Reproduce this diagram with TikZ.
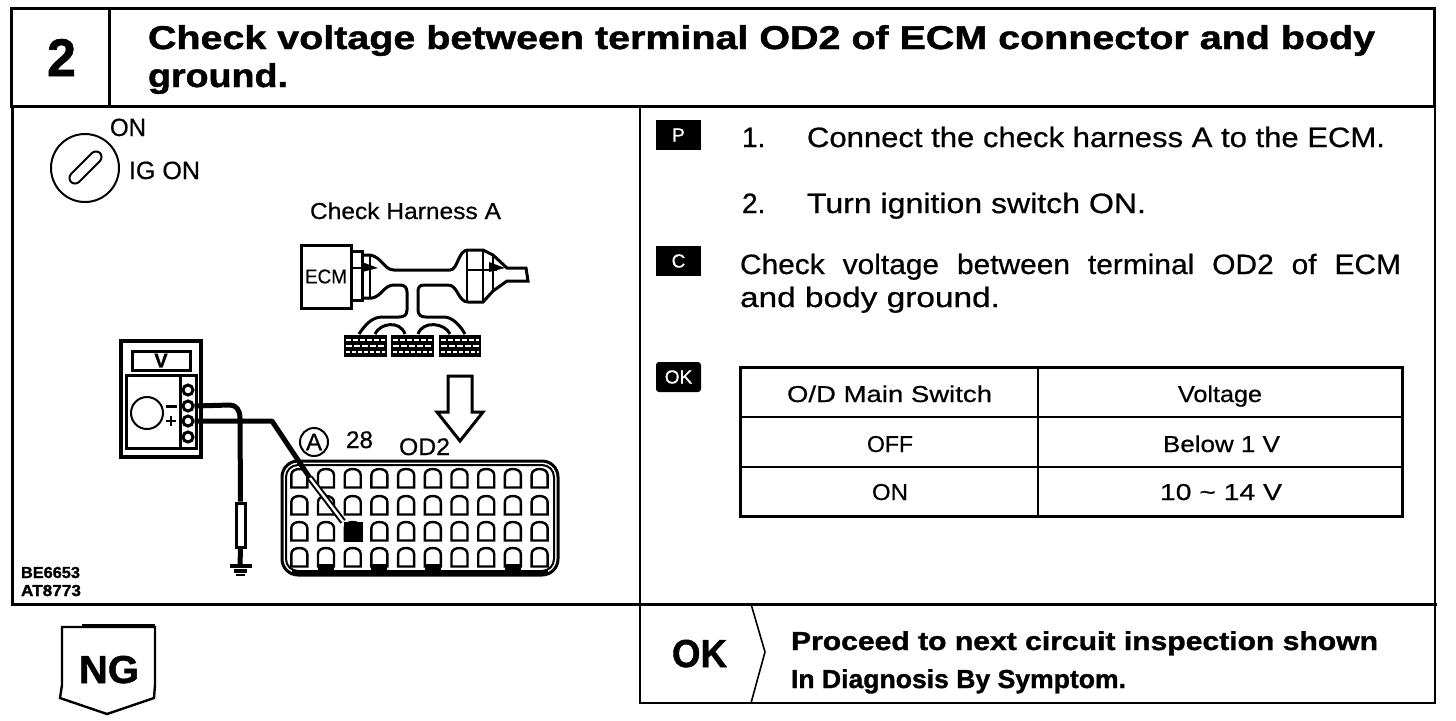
\documentclass[tikz,border=0pt]{standalone}
\usepackage{fontspec}
\usepackage{graphicx}
\setmainfont{Liberation Sans}[FakeBold=0.6,BoldFeatures={FakeBold=1.2}]
\newcommand{\fitw}[2]{\resizebox{\dimexpr#1pt/2\relax}{\height}{#2}}
\newcommand{\px}[1]{\fontsize{\dimexpr#1pt/2\relax}{\dimexpr#1pt/2\relax}\selectfont}
\tikzset{
  x=0.5pt,y=-0.5pt,
  txt/.style={anchor=base west,inner sep=0pt,outer sep=0pt},
  frameline/.style={line width=1.5pt,line cap=rect},
  thinframe/.style={line width=1.1pt,line cap=rect},
  ink/.style={line width=1.5pt},
  thinink/.style={line width=1pt},
  wire/.style={line width=2.5pt,line join=round},
  pinbox/.style={line width=1.2pt},
  badge/.style={fill=black,draw=none,minimum width=22.5pt,minimum height=15pt,inner sep=0pt,text=white},
}
\begin{document}
\begin{tikzpicture}
\useasboundingbox (0,0) rectangle (1456,720);
\fill[white] (0,0) rectangle (1456,720);
% frames
\draw[frameline] (11,8) rectangle (1434,106);
\draw[frameline] (109,8) -- (109,106);
\draw[frameline] (12,106) -- (12,604) -- (640,604);
\draw[thinframe] (640,106) -- (640,703) -- (1435,703) -- (1435,106);
\draw[frameline] (640,604) -- (1435,604);
% header
\node[txt] (num) at (47,76) {\px{53}\bfseries\fitw{29}{2}};
\node[txt] (t1) at (148,49) {\px{33}\bfseries\fitw{1227}{Check voltage between terminal OD2 of ECM connector and body}};
\node[txt] (t2) at (148,87) {\px{33}\bfseries\fitw{140}{ground.}};
% ignition key
\node[draw,circle,thinink,minimum size=34pt,inner sep=0pt] (key) at (85,168) {};
\draw[thinink,rounded corners=3pt] (67,178) -- (96,149) -- (104,157) -- (75,186) -- cycle;
\node[txt] (on) at (110,136) {\px{25}\fitw{36}{ON}};
\node[txt] (igon) at (129,179) {\px{25}\fitw{71}{IG ON}};
% harness
\node[txt] (chk) at (310,219) {\px{23}\fitw{191}{Check Harness A}};
\node[draw,ink,minimum width=25pt,minimum height=31.5pt,inner sep=0pt] (ecm) at (326,276.5) {\px{20}\fitw{42}{ECM}};
\draw[ink] (351,251) rectangle (362,300);
\draw[ink] (362,255) -- (370,255) .. controls (382,257) and (384,270) .. (394,270) -- (450,270)
   .. controls (458,270) and (458,250) .. (468,250) -- (483,250) -- (493,255) -- (507,268) -- (526,268) -- (528,281) -- (507,281)
   -- (493,291) -- (483,302) -- (468,302) .. controls (458,302) and (458,285) .. (448,285) -- (424,285)
   .. controls (419,285) and (418,288) .. (418,292) -- (418,310) .. controls (418,315) and (421,317) .. (426,317)
   -- (444,317) .. controls (452,317) and (460,325) .. (465,334);
\draw[ink] (362,298) -- (372,298) .. controls (382,296) and (384,285) .. (394,285) -- (400,285)
   .. controls (405,285) and (407,288) .. (407,292) -- (407,310) .. controls (407,315) and (404,317) .. (399,317)
   -- (382,317) .. controls (372,317) and (365,325) .. (359,334);
\draw[ink] (375,334) .. controls (380,323) and (400,320) .. (405,334);
\draw[ink] (418,334) .. controls (423,320) and (445,323) .. (450,334);
\draw[thinink] (467,250) -- (467,302) (483,250) -- (483,302) (351,268) -- (372,268)
   (467,270) -- (497,270) (493,255) -- (493,291);
\fill (362,262) -- (378,268) -- (362,272) -- cycle;
\fill (489,262) -- (505,268) -- (489,272) -- cycle;
\draw[thinink] (370,255) -- (370,298);
\foreach \a/\b in {344/387,391/434,439/481}{
  \fill (\a,335) rectangle (\b,357);
  \draw[white,line width=1pt,dash pattern=on 2.5pt off 1pt] (\a+2,340) -- (\b-2,340);
  \draw[white,line width=1pt,dash pattern=on 3pt off 1pt] (\a+2,346) -- (\b-2,346);
  \draw[white,line width=1pt,dash pattern=on 2pt off 1pt] (\a+2,352) -- (\b-2,352);
}
% open arrow
\draw[ink,line join=miter] (448,376) -- (472,376) -- (472,412) -- (483,412) -- (460,441) -- (437,412) -- (448,412) -- cycle;
% labels
\node[draw,circle,thinink,minimum size=14pt,inner sep=0pt] (a) at (314,442) {\px{24}A};
\node[txt] (n28) at (346,448) {\px{24}\fitw{27}{28}};
\node[txt] (od2) at (399,455) {\px{24}\fitw{51}{OD2}};
% connector
\draw[ink,rounded corners=8pt] (282,461) rectangle (558,575);
\draw[thinink,rounded corners=6pt] (286,465) rectangle (554,571);
\fill (292,570) rectangle (548,575);
\foreach \r/\y in {1/478,2/505,3/531,4/557}{
  \foreach \i in {0,...,9}{
    \pgfmathsetmacro{\xx}{299.3+26.7*\i}
    \draw[pinbox,fill=white] (\xx-8,\y+9.5) -- (\xx-8,\y-3) .. controls (\xx-8,\y-11) and (\xx+8,\y-11) .. (\xx+8,\y-3) -- (\xx+8,\y+9.5) -- cycle;
  }
}
\foreach \i in {1,3,5,8}{
  \pgfmathsetmacro{\xx}{299.3+26.7*\i}
  \fill (\xx-8,564) rectangle (\xx+8,573);
}
\node[fill=black,minimum width=9.5pt,minimum height=10pt,inner sep=0pt] (od2pin) at (353,532) {};
% meter
\draw[line width=1.6pt] (121,341) rectangle (201,457);
\node[draw,ink,minimum width=29pt,minimum height=9.5pt,inner sep=0pt] (disp) at (161,360.5) {\px{20}\bfseries V};
\draw[ink] (126,375) rectangle (196,448);
\draw[ink] (180,375) -- (180,448);
\node[draw,circle,thinink,minimum size=16pt,inner sep=0pt] (dial) at (147,413) {};
\draw[line width=1.5pt] (166,406) -- (177,406);
\draw[line width=1.4pt] (166,421) -- (176,421) (171,416) -- (171,426);
\node[draw,circle,ink,fill=white,minimum size=5pt,inner sep=0pt] (t1p) at (188,390) {};
\node[draw,circle,ink,fill=white,minimum size=5pt,inner sep=0pt] (t2p) at (188,406) {};
\node[draw,circle,ink,fill=white,minimum size=5pt,inner sep=0pt] (t3p) at (188,421) {};
\node[draw,circle,ink,fill=white,minimum size=5pt,inner sep=0pt] (t4p) at (188,437) {};
% wires
\coordinate (b1) at (230,405);
\coordinate (b2) at (272,421);
\coordinate (dbl) at (310,478);
\coordinate (gnd) at (240,566);
\node[draw,ink,fill=white,minimum width=4.5pt,minimum height=22pt,inner sep=0pt] (probe) at (240.5,525) {};
\draw[wire] (t2p.east) -- (b1) .. controls (236,405) and (240,410) .. (240,418) -- (probe.north);
\draw[wire] (t3p.east) -- (b2) -- (dbl);
\draw[line width=3.2pt] (dbl) -- (od2pin.north west);
\draw[white,line width=1.2pt] (dbl) -- (od2pin.north west);
\draw[wire] (probe.south) -- (gnd);
\draw[line width=2pt] (230,566) -- (252,566);
\draw[line width=1.8pt] (234,571) -- (247,571);
\draw[line width=1pt] (236,575) -- (245,575);
% codes
\node[txt] (c1) at (21,578) {\px{16}\bfseries\fitw{59}{BE6653}};
\node[txt] (c2) at (21,596) {\px{16}\bfseries\fitw{60}{AT8773}};
% right panel
\node[badge] (bp) at (678.5,135) {\px{19}P};
\node[badge] (bc) at (678.5,261) {\px{19}C};
\node[badge,rounded corners=1.5pt] (bok) at (678.5,377) {\px{19}OK};
\node[txt] (s1) at (742,147) {\px{28}1.};
\node[txt] (s1t) at (807,147) {\px{28}\fitw{578}{Connect the check harness A to the ECM.}};
\node[txt] (s2) at (742,213) {\px{28}2.};
\node[txt] (s2t) at (807,213) {\px{28}\fitw{339}{Turn ignition switch ON.}};
\node[txt] (s3) at (740,274) {\px{28}\fitw{661}{Check\hspace{0.6em}voltage\hspace{0.6em}between\hspace{0.6em}terminal\hspace{0.6em}OD2\hspace{0.6em}of\hspace{0.6em}ECM}};
\node[txt] (s4) at (740,307) {\px{28}\fitw{260}{and body ground.}};
% table
\draw[line width=1.5pt] (740,367) rectangle (1402,516);
\draw[thinink] (740,417) -- (1402,417);
\draw[line width=1.1pt] (740,467) -- (1402,467);
\draw[thinink] (1038,367) -- (1038,516);
\node[txt] (h1) at (787,402) {\px{23}\fitw{205}{O/D Main Switch}};
\node[txt] (h2) at (1178,402) {\px{23}\fitw{84}{Voltage}};
\node[txt] (r1) at (867,452) {\px{23}\fitw{46}{OFF}};
\node[txt] (v1) at (1163,452) {\px{23}\fitw{117}{Below 1 V}};
\node[txt] (r2) at (872,500) {\px{23}\fitw{36}{ON}};
\node[txt] (v2) at (1160,500) {\px{23}\fitw{122}{10 \textasciitilde{} 14 V}};
% bottom
\draw[line width=1.2pt] (62,627) -- (155,627) -- (155,685) -- (154,698) -- (107,714) -- (60,698) -- (62,685) -- cycle;
\draw[line width=1.5pt] (82,625) -- (155,625);
\node[txt] (ng) at (79,683) {\px{39}\bfseries\fitw{60}{NG}};
\node[txt] (ok) at (672,667) {\px{39}\bfseries\fitw{55}{OK}};
\draw[line width=0.8pt] (751,604) -- (765,652) -- (751,703);
\node[txt] (p1) at (791,650) {\px{26}\bfseries\fitw{587}{Proceed to next circuit inspection shown}};
\node[txt] (p2) at (791,688) {\px{26}\bfseries\fitw{335}{In Diagnosis By Symptom.}};
\end{tikzpicture}
\end{document}
